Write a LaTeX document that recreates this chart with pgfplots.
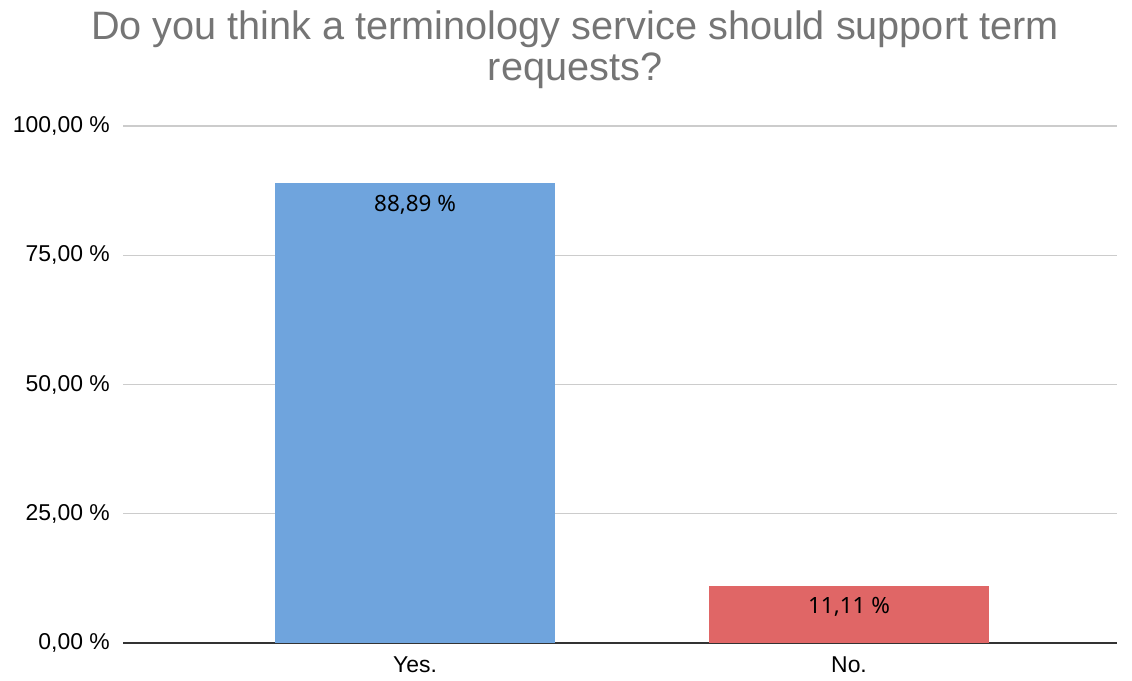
\documentclass[border=0pt]{standalone}
\usepackage{pgfplots}
\pgfplotsset{compat=1.18}
\usepackage{fontspec}
\setmainfont{Liberation Sans}
\newfontfamily\labelfont{Noto Sans}
\definecolor{barblue}{HTML}{6FA4DD}
\definecolor{barred}{HTML}{E06666}
\definecolor{titlegray}{HTML}{757575}
\definecolor{gridgray}{HTML}{CCCCCC}
\definecolor{axisgray}{HTML}{333333}
\begin{document}
\begin{tikzpicture}[x=1bp,y=1bp]
\useasboundingbox (0,0) rectangle (1132,681);
\node[anchor=base, font=\fontsize{39.8}{44}\selectfont, text=titlegray] at (575,641) {Do you think a terminology service should support term};
\node[anchor=base, font=\fontsize{39.8}{44}\selectfont, text=titlegray] at (575,600.5) {requests?};
\begin{axis}[
  at={(123bp,38bp)}, anchor=south west,
  scale only axis, width=994bp, height=517bp,
  xmin=-0.673, xmax=1.6175, ymin=0, ymax=100,
  axis x line*=bottom, axis y line*=left,
  x axis line style={-, draw=axisgray, line width=1.3bp},
  y axis line style={draw=none},
  xtick={0,1}, xticklabels={Yes.,No.},
  ytick={0,25,50,75,100},
  yticklabels={{0,00 \%},{25,00 \%},{50,00 \%},{75,00 \%},{100,00 \%}},
  major tick length=0pt,
  ymajorgrids, major grid style={draw=gridgray, line width=1.2bp},
  tick label style={font=\fontsize{23}{26}\selectfont, text=black},
  yticklabel style={anchor=east, inner sep=0pt, xshift=-13bp},
  xticklabel style={anchor=north, inner sep=0pt, yshift=-14bp},
  ybar, bar width=280bp, bar shift=0pt,
  nodes near coords,
  every node near coord/.append style={anchor=north, inner sep=0pt, yshift=-12bp, font=\labelfont\fontsize{22.5}{25}\selectfont, text=black},
  clip=false,
]
\addplot[fill=barblue, draw=none, nodes near coords={88,89 \%}] coordinates {(0,88.89)};
\addplot[fill=barred, draw=none, nodes near coords={11,11 \%}] coordinates {(1,11.11)};
\end{axis}
\end{tikzpicture}
\end{document}
